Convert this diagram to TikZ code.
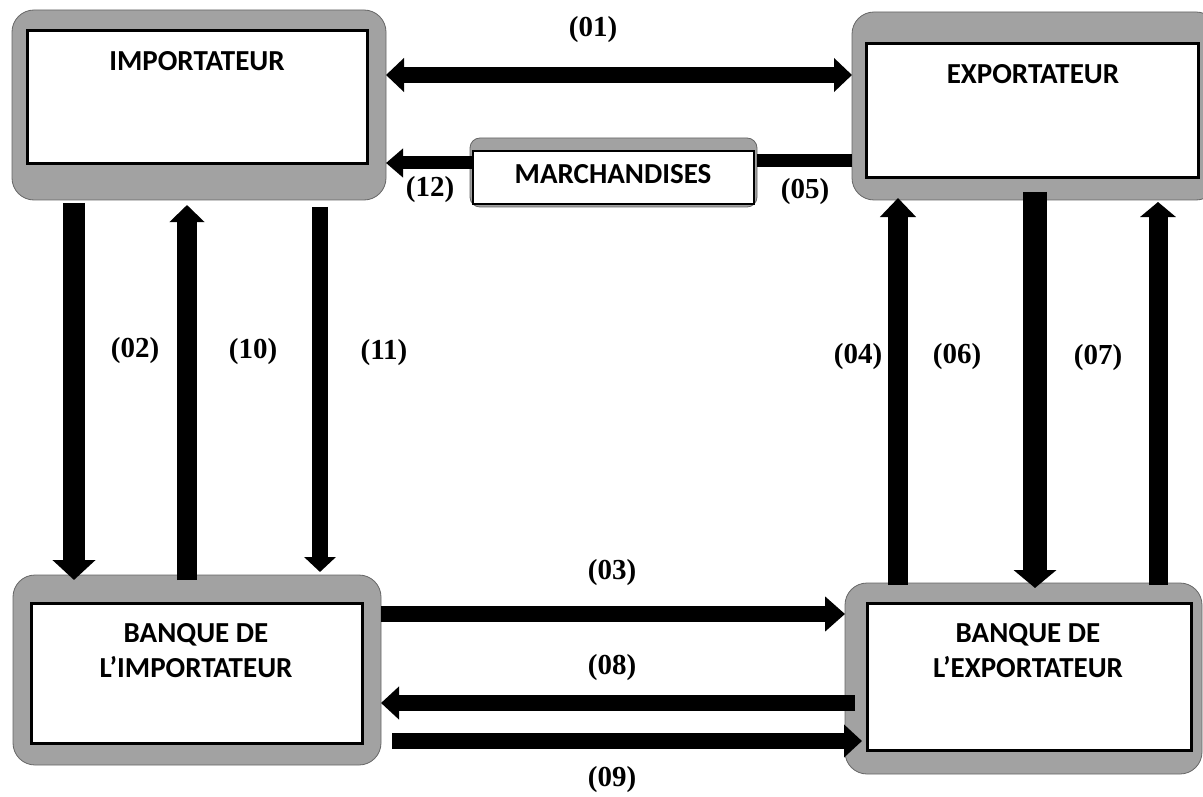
\documentclass[tikz,border=0pt]{standalone}
\usepackage{fontspec}
\setmainfont{Liberation Serif}
\newfontfamily\boxfont{Carlito}
\usetikzlibrary{arrows.meta,calc}
\definecolor{framegray}{HTML}{A2A2A2}
\begin{document}
\begin{tikzpicture}[x=1pt,y=-1pt,
  frame/.style={draw=black!60, line width=0.8pt, fill=framegray, rounded corners=22pt, inner sep=0pt, outer sep=0pt},
  inbox/.style={draw=black, line width=3pt, fill=white, inner sep=0pt, outer sep=0pt},
  boxtxt/.style={font=\boxfont\bfseries\fontsize{29}{35}\selectfont, align=center, inner sep=0pt},
  lbl/.style={font=\bfseries\fontsize{29}{30}\selectfont, inner sep=0pt},
  bar/.style={line width=#1, draw=black},
]
\clip (0,0) rectangle (1203,797);
\fill[white] (0,0) rectangle (1203,797);

% ---- boxes ----
\node[frame, minimum width=374pt, minimum height=190pt] (impo) at (199,105) {};
\node[inbox, minimum width=340pt, minimum height=133pt] (impi) at (197,97.5) {};
\node[boxtxt] (impt) at (197,61) {IMPORTATEUR};

\node[frame, minimum width=366pt, minimum height=188pt] (expo) at (1035,106) {};
\node[inbox, minimum width=332pt, minimum height=134pt] (expi) at (1032,111) {};
\node[boxtxt] (expt) at (1033,74) {EXPORTATEUR};

\node[frame, minimum width=368pt, minimum height=190pt] (bimo) at (197,670) {};
\node[inbox, minimum width=331pt, minimum height=140pt] (bimi) at (196.5,673) {};
\node[boxtxt] (bimt) at (196,651) {BANQUE DE\\L’IMPORTATEUR};

\node[frame, minimum width=357pt, minimum height=191pt] (bexo) at (1023.5,678.5) {};
\node[inbox, minimum width=324pt, minimum height=147pt] (bexi) at (1029,676.5) {};
\node[boxtxt] (bext) at (1028,651) {BANQUE DE\\L’EXPORTATEUR};

\node[frame, rounded corners=10pt, minimum width=287pt, minimum height=69pt] (maro) at (613.5,172.5) {};
\node[inbox, line width=2.2pt, minimum width=281pt, minimum height=53pt] (mari) at (613.5,177.5) {};
\node[boxtxt] (mart) at (613,174) {MARCHANDISES};

% ---- horizontal connectors ----
\draw[bar=16pt, {Triangle[width=33pt,length=18pt]}-{Triangle[width=33pt,length=18pt]}]
  (impo.east |- 0,75) -- (expo.west |- 0,75);
\draw[bar=13pt, -{Triangle[width=28pt,length=17pt]}]
  (mari.west |- 0,163) -- (impo.east |- 0,163);
\draw[bar=13pt] (expo.west |- 0,161) -- (maro.east |- 0,161);

\draw[bar=16pt, -{Triangle[width=34pt,length=20pt]}]
  (bimo.east |- 0,614) -- (bexo.west |- 0,614);
\draw[bar=16pt, -{Triangle[width=32pt,length=18pt]}]
  ($(bexo.west |- 0,703)+(10,0)$) -- (bimo.east |- 0,703);
\draw[bar=16pt, -{Triangle[width=32pt,length=18pt]}]
  ($(bimo.east |- 0,741)+(11,0)$) -- ($(bexo.west |- 0,741)+(17,0)$);

% ---- vertical connectors ----
\draw[bar=22pt, -{Triangle[width=42pt,length=20pt]}]
  ($(impo.south -| 74,0)+(0,3)$) -- ($(bimo.north -| 74,0)+(0,5)$);
\draw[bar=20pt, -{Triangle[width=34pt,length=17pt]}]
  ($(bimo.north -| 187,0)+(0,5)$) -- ($(impo.south -| 187,0)+(0,5)$);
\draw[bar=16pt, -{Triangle[width=31pt,length=15pt]}]
  ($(impo.south -| 320,0)+(0,7)$) -- ($(bimo.north -| 320,0)+(0,-3)$);

\draw[bar=20pt, -{Triangle[width=35pt,length=19pt]}]
  ($(bexo.north -| 898,0)+(0,2)$) -- ($(expo.south -| 898,0)+(0,-2)$);
\draw[bar=24pt, -{Triangle[width=42pt,length=18pt]}]
  ($(expo.south -| 1035,0)+(0,-8)$) -- ($(bexo.north -| 1035,0)+(0,5)$);
\draw[bar=19pt, -{Triangle[width=35pt,length=15pt]}]
  ($(bexo.north -| 1158,0)+(0,2)$) -- ($(expo.south -| 1158,0)+(0,2)$);

% ---- labels ----
\node[lbl] (l01) at (593,30) {(01)};
\node[lbl] (l12) at (430,190) {(12)};
\node[lbl] (l05) at (805,192) {(05)};
\node[lbl] (l02) at (135,351) {(02)};
\node[lbl] (l10) at (253,352) {(10)};
\node[lbl] (l11) at (384,353) {(11)};
\node[lbl] (l04) at (858,357) {(04)};
\node[lbl] (l06) at (957,357) {(06)};
\node[lbl] (l07) at (1098,358) {(07)};
\node[lbl] (l03) at (612,573) {(03)};
\node[lbl] (l08) at (612,668) {(08)};
\node[lbl] (l09) at (612,780) {(09)};
\end{tikzpicture}
\end{document}
